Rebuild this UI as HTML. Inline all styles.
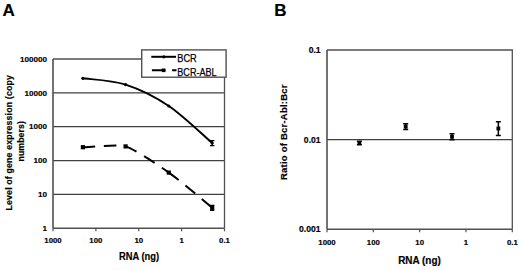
<!DOCTYPE html>
<html><head><meta charset="utf-8"><style>html,body{margin:0;padding:0;background:#fff;}body{width:520px;height:270px;overflow:hidden;}svg{display:block;}</style></head>
<body><svg width="520" height="270" viewBox="0 0 520 270"><rect width="520" height="270" fill="#fff"/><text x="2.4" y="15.8" font-family="Liberation Sans, sans-serif" font-weight="bold" stroke="#000" stroke-width="0.18" font-size="17" fill="#000">A</text><text x="274.3" y="15.8" font-family="Liberation Sans, sans-serif" font-weight="bold" stroke="#000" stroke-width="0.18" font-size="17" fill="#000">B</text><line x1="53" y1="194.44" x2="224.5" y2="194.44" stroke="#404040" stroke-width="1.3"/><line x1="53" y1="160.58" x2="224.5" y2="160.58" stroke="#404040" stroke-width="1.3"/><line x1="53" y1="126.72" x2="224.5" y2="126.72" stroke="#404040" stroke-width="1.3"/><line x1="53" y1="92.86" x2="224.5" y2="92.86" stroke="#404040" stroke-width="1.3"/><polyline points="53,59 224.5,59 224.5,228.3" fill="none" stroke="#505050" stroke-width="1.3"/><line x1="53" y1="59" x2="53" y2="228.3" stroke="#505050" stroke-width="1.6"/><line x1="53" y1="228.3" x2="224.5" y2="228.3" stroke="#505050" stroke-width="1.6"/><line x1="53.00" y1="228.3" x2="53.00" y2="231.3" stroke="#505050" stroke-width="1.2"/><line x1="95.88" y1="228.3" x2="95.88" y2="231.3" stroke="#505050" stroke-width="1.2"/><line x1="138.75" y1="228.3" x2="138.75" y2="231.3" stroke="#505050" stroke-width="1.2"/><line x1="181.62" y1="228.3" x2="181.62" y2="231.3" stroke="#505050" stroke-width="1.2"/><line x1="224.50" y1="228.3" x2="224.50" y2="231.3" stroke="#505050" stroke-width="1.2"/><text x="47" y="61.70" font-family="Liberation Sans, sans-serif" font-weight="bold" stroke="#000" stroke-width="0.18" font-size="8.1" text-anchor="end">100000</text><text x="47" y="95.56" font-family="Liberation Sans, sans-serif" font-weight="bold" stroke="#000" stroke-width="0.18" font-size="8.1" text-anchor="end">10000</text><text x="47" y="129.42" font-family="Liberation Sans, sans-serif" font-weight="bold" stroke="#000" stroke-width="0.18" font-size="8.1" text-anchor="end">1000</text><text x="47" y="163.28" font-family="Liberation Sans, sans-serif" font-weight="bold" stroke="#000" stroke-width="0.18" font-size="8.1" text-anchor="end">100</text><text x="47" y="197.14" font-family="Liberation Sans, sans-serif" font-weight="bold" stroke="#000" stroke-width="0.18" font-size="8.1" text-anchor="end">10</text><text x="47" y="231.00" font-family="Liberation Sans, sans-serif" font-weight="bold" stroke="#000" stroke-width="0.18" font-size="8.1" text-anchor="end">1</text><text x="53.00" y="242.5" font-family="Liberation Sans, sans-serif" font-weight="bold" stroke="#000" stroke-width="0.18" font-size="7.8" text-anchor="middle">1000</text><text x="95.88" y="242.5" font-family="Liberation Sans, sans-serif" font-weight="bold" stroke="#000" stroke-width="0.18" font-size="7.8" text-anchor="middle">100</text><text x="138.75" y="242.5" font-family="Liberation Sans, sans-serif" font-weight="bold" stroke="#000" stroke-width="0.18" font-size="7.8" text-anchor="middle">10</text><text x="181.62" y="242.5" font-family="Liberation Sans, sans-serif" font-weight="bold" stroke="#000" stroke-width="0.18" font-size="7.8" text-anchor="middle">1</text><text x="224.50" y="242.5" font-family="Liberation Sans, sans-serif" font-weight="bold" stroke="#000" stroke-width="0.18" font-size="7.8" text-anchor="middle">0.1</text><text x="139" y="259.9" font-family="Liberation Sans, sans-serif" font-weight="bold" stroke="#000" stroke-width="0.18" font-size="10" text-anchor="middle" textLength="40" lengthAdjust="spacingAndGlyphs">RNA (ng)</text><text transform="translate(12.1,142.8) rotate(-90)" font-family="Liberation Sans, sans-serif" font-weight="bold" stroke="#000" stroke-width="0.18" font-size="8.8" text-anchor="middle" textLength="135.5" lengthAdjust="spacing">Level of gene expression (copy</text><text transform="translate(23.9,141.3) rotate(-90)" font-family="Liberation Sans, sans-serif" font-weight="bold" stroke="#000" stroke-width="0.18" font-size="8.8" text-anchor="middle" textLength="40.5" lengthAdjust="spacing">numbers)</text><path d="M82.90,78.30 C90.02,79.35 111.28,79.98 125.60,84.60 C139.92,89.22 154.37,96.25 168.80,106.00 C183.23,115.75 204.97,136.92 212.20,143.10" fill="none" stroke="#000" stroke-width="2"/><path d="M82.90,147.20 C90.02,147.07 118.44,144.28 125.60,146.40" fill="none" stroke="#000" stroke-width="2" stroke-dasharray="12.5 8.5"/><path d="M125.60,146.40 C132.76,148.52 154.37,162.37 168.80,172.60" fill="none" stroke="#000" stroke-width="2" stroke-dasharray="12.5 8.5"/><path d="M168.80,172.60 C183.23,182.83 204.97,201.93 212.20,207.80" fill="none" stroke="#000" stroke-width="2" stroke-dasharray="12.5 8.5"/><circle cx="82.90" cy="78.30" r="1.6" fill="#000"/><circle cx="125.60" cy="84.60" r="1.6" fill="#000"/><circle cx="168.80" cy="106.00" r="1.6" fill="#000"/><circle cx="212.20" cy="143.10" r="1.6" fill="#000"/><rect x="80.80" y="145.10" width="4.2" height="4.2" fill="#000"/><rect x="123.50" y="144.30" width="4.2" height="4.2" fill="#000"/><rect x="166.70" y="170.50" width="4.2" height="4.2" fill="#000"/><rect x="210.10" y="205.70" width="4.2" height="4.2" fill="#000"/><path d="M210.00,140.60h4.4M210.00,145.60h4.4M212.20,140.60v5" stroke="#000" stroke-width="1.2" fill="none"/><path d="M210.00,205.30h4.4M210.00,210.30h4.4M212.20,205.30v5" stroke="#000" stroke-width="1.2" fill="none"/><rect x="141.7" y="49.9" width="84.4" height="27.3" fill="#fff" stroke="#505050" stroke-width="1.4"/><line x1="151.3" y1="56.8" x2="176" y2="56.8" stroke="#000" stroke-width="2"/><circle cx="163.8" cy="56.8" r="1.6" fill="#000"/><path d="M151.9,70.3H165.5M172.1,70.3H176.5" stroke="#000" stroke-width="2"/><rect x="161.8" y="68.5" width="3.6" height="3.6" fill="#000"/><text x="177.3" y="61.8" font-family="Liberation Sans, sans-serif" font-size="10.2" stroke="#000" stroke-width="0.25" textLength="19.4" lengthAdjust="spacingAndGlyphs">BCR</text><text x="177.3" y="75.9" font-family="Liberation Sans, sans-serif" font-size="10.2" stroke="#000" stroke-width="0.25" textLength="39.3" lengthAdjust="spacingAndGlyphs">BCR-ABL</text><line x1="327" y1="139.65" x2="512.3" y2="139.65" stroke="#404040" stroke-width="1.3"/><polyline points="327,50 512.3,50 512.3,229.3" fill="none" stroke="#505050" stroke-width="1.3"/><line x1="327" y1="50" x2="327" y2="229.3" stroke="#505050" stroke-width="1.6"/><line x1="327" y1="229.3" x2="512.3" y2="229.3" stroke="#505050" stroke-width="1.6"/><line x1="327.00" y1="229.3" x2="327.00" y2="232.3" stroke="#505050" stroke-width="1.2"/><line x1="373.32" y1="229.3" x2="373.32" y2="232.3" stroke="#505050" stroke-width="1.2"/><line x1="419.65" y1="229.3" x2="419.65" y2="232.3" stroke="#505050" stroke-width="1.2"/><line x1="465.97" y1="229.3" x2="465.97" y2="232.3" stroke="#505050" stroke-width="1.2"/><line x1="512.30" y1="229.3" x2="512.30" y2="232.3" stroke="#505050" stroke-width="1.2"/><text x="320.6" y="53.10" font-family="Liberation Sans, sans-serif" font-weight="bold" stroke="#000" stroke-width="0.18" font-size="8.6" text-anchor="end">0.1</text><text x="320.6" y="142.75" font-family="Liberation Sans, sans-serif" font-weight="bold" stroke="#000" stroke-width="0.18" font-size="8.6" text-anchor="end">0.01</text><text x="320.6" y="232.40" font-family="Liberation Sans, sans-serif" font-weight="bold" stroke="#000" stroke-width="0.18" font-size="8.6" text-anchor="end">0.001</text><text x="327.00" y="245" font-family="Liberation Sans, sans-serif" font-weight="bold" stroke="#000" stroke-width="0.18" font-size="7.8" text-anchor="middle">1000</text><text x="373.32" y="245" font-family="Liberation Sans, sans-serif" font-weight="bold" stroke="#000" stroke-width="0.18" font-size="7.8" text-anchor="middle">100</text><text x="419.65" y="245" font-family="Liberation Sans, sans-serif" font-weight="bold" stroke="#000" stroke-width="0.18" font-size="7.8" text-anchor="middle">10</text><text x="465.97" y="245" font-family="Liberation Sans, sans-serif" font-weight="bold" stroke="#000" stroke-width="0.18" font-size="7.8" text-anchor="middle">1</text><text x="512.30" y="245" font-family="Liberation Sans, sans-serif" font-weight="bold" stroke="#000" stroke-width="0.18" font-size="7.8" text-anchor="middle">0.1</text><text x="419.5" y="264.2" font-family="Liberation Sans, sans-serif" font-weight="bold" stroke="#000" stroke-width="0.18" font-size="10.4" text-anchor="middle" textLength="42.6" lengthAdjust="spacingAndGlyphs">RNA (ng)</text><text transform="translate(287.2,132.3) rotate(-90)" font-family="Liberation Sans, sans-serif" font-weight="bold" stroke="#000" stroke-width="0.18" font-size="9.5" text-anchor="middle" textLength="95.5" lengthAdjust="spacing">Ratio of Bcr-Abl:Bcr</text><path d="M356.88,141.20h5M356.88,144.80h5M359.38,141.20V144.80" stroke="#000" stroke-width="1.5" fill="none"/><rect x="357.48" y="141.10" width="3.8" height="3.8" fill="#000"/><path d="M403.20,123.80h5M403.20,129.40h5M405.70,123.80V129.40" stroke="#000" stroke-width="1.5" fill="none"/><rect x="403.80" y="124.70" width="3.8" height="3.8" fill="#000"/><path d="M449.53,133.80h5M449.53,139.80h5M452.03,133.80V139.80" stroke="#000" stroke-width="1.5" fill="none"/><rect x="450.13" y="134.90" width="3.8" height="3.8" fill="#000"/><path d="M495.85,121.80h5M495.85,135.50h5M498.35,121.80V135.50" stroke="#000" stroke-width="1.5" fill="none"/><rect x="496.45" y="126.60" width="3.8" height="3.8" fill="#000"/></svg></body></html>
